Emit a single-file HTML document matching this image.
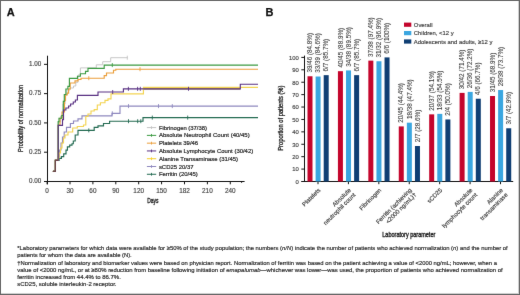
<!DOCTYPE html>
<html><head><meta charset="utf-8"><style>
html,body{margin:0;padding:0;background:#fff;}
body{width:520px;height:295px;overflow:hidden;position:relative;}
.frame{position:absolute;left:0;top:0;width:520px;height:295px;box-sizing:border-box;border:1px solid #666;box-shadow:inset -1px -1px 0 rgba(102,102,102,0.3);}
svg{position:absolute;left:0;top:0;}
.wrap{position:absolute;left:0;top:0;width:520px;height:295px;will-change:transform;background:#fff;}
svg text{font-family:"Liberation Sans", sans-serif;stroke-width:0.15;}
</style></head><body>
<div class="wrap">
<svg width="520" height="295" viewBox="0 0 520 295">
<defs><filter id="soft" x="0" y="0" width="520" height="295" filterUnits="userSpaceOnUse" color-interpolation-filters="sRGB"><feConvolveMatrix order="3" kernelMatrix="0.0036 0.0528 0.0036 0.0528 0.7744 0.0528 0.0036 0.0528 0.0036" divisor="1" edgeMode="duplicate" preserveAlpha="true"/></filter></defs>
<g filter="url(#soft)">
<rect x="0" y="0" width="520" height="295" fill="#fff"/>
<line x1="47.5" y1="55.7" x2="47.5" y2="184.3" stroke="#111" stroke-width="1.05"/>
<line x1="44" y1="181.5" x2="244.6" y2="181.5" stroke="#111" stroke-width="1.05"/>
<line x1="44" y1="181.50" x2="47.5" y2="181.50" stroke="#111" stroke-width="1"/>
<text stroke="#444" x="41.3" y="183.35" font-size="6.3" text-anchor="end" fill="#444">0.00</text>
<line x1="44" y1="152.21" x2="47.5" y2="152.21" stroke="#111" stroke-width="1"/>
<text stroke="#444" x="41.3" y="154.06" font-size="6.3" text-anchor="end" fill="#444">0.25</text>
<line x1="44" y1="122.92" x2="47.5" y2="122.92" stroke="#111" stroke-width="1"/>
<text stroke="#444" x="41.3" y="124.77" font-size="6.3" text-anchor="end" fill="#444">0.50</text>
<line x1="44" y1="93.64" x2="47.5" y2="93.64" stroke="#111" stroke-width="1"/>
<text stroke="#444" x="41.3" y="95.49" font-size="6.3" text-anchor="end" fill="#444">0.75</text>
<line x1="44" y1="64.35" x2="47.5" y2="64.35" stroke="#111" stroke-width="1"/>
<text stroke="#444" x="41.3" y="66.20" font-size="6.3" text-anchor="end" fill="#444">1.00</text>
<line x1="47.10" y1="181.5" x2="47.10" y2="184.3" stroke="#111" stroke-width="1"/>
<text stroke="#444" x="47.10" y="192.9" font-size="6.4" text-anchor="middle" fill="#444">0</text>
<line x1="70.00" y1="181.5" x2="70.00" y2="184.3" stroke="#111" stroke-width="1"/>
<text stroke="#444" x="70.00" y="192.9" font-size="6.4" text-anchor="middle" fill="#444">30</text>
<line x1="92.90" y1="181.5" x2="92.90" y2="184.3" stroke="#111" stroke-width="1"/>
<text stroke="#444" x="92.90" y="192.9" font-size="6.4" text-anchor="middle" fill="#444">60</text>
<line x1="115.80" y1="181.5" x2="115.80" y2="184.3" stroke="#111" stroke-width="1"/>
<text stroke="#444" x="115.80" y="192.9" font-size="6.4" text-anchor="middle" fill="#444">90</text>
<line x1="138.70" y1="181.5" x2="138.70" y2="184.3" stroke="#111" stroke-width="1"/>
<text stroke="#444" x="138.70" y="192.9" font-size="6.4" text-anchor="middle" fill="#444">120</text>
<line x1="161.59" y1="181.5" x2="161.59" y2="184.3" stroke="#111" stroke-width="1"/>
<text stroke="#444" x="161.59" y="192.9" font-size="6.4" text-anchor="middle" fill="#444">150</text>
<line x1="184.49" y1="181.5" x2="184.49" y2="184.3" stroke="#111" stroke-width="1"/>
<text stroke="#444" x="184.49" y="192.9" font-size="6.4" text-anchor="middle" fill="#444">182</text>
<line x1="207.39" y1="181.5" x2="207.39" y2="184.3" stroke="#111" stroke-width="1"/>
<text stroke="#444" x="207.39" y="192.9" font-size="6.4" text-anchor="middle" fill="#444">210</text>
<line x1="230.29" y1="181.5" x2="230.29" y2="184.3" stroke="#111" stroke-width="1"/>
<text stroke="#444" x="230.29" y="192.9" font-size="6.4" text-anchor="middle" fill="#444">240</text>
<line x1="241.6" y1="181.5" x2="241.6" y2="183.0" stroke="#111" stroke-width="0.8"/>
<text stroke="#222" x="152.9" y="202.9" font-size="7.1" text-anchor="middle" fill="#222" style="stroke-width:0.35" textLength="11.2" lengthAdjust="spacingAndGlyphs">Days</text>
<text stroke="#222" transform="translate(23.0,118.4) rotate(-90)" x="0" y="0" font-size="6.8" text-anchor="middle" fill="#222" style="stroke-width:0.3" textLength="67" lengthAdjust="spacingAndGlyphs">Probability of normalization</text>
<polyline points="52.90,171.40 55.40,171.40 55.40,160.40 58.20,160.40 58.20,122.00 60.50,122.00 60.50,116.00 63.00,116.00 63.00,104.00 65.00,104.00 65.00,95.00 67.00,95.00 67.00,90.00 70.00,90.00 70.00,88.00 73.50,88.00 73.50,86.00 75.80,86.00 75.80,82.30 78.00,82.30 78.00,75.00 80.40,75.00 80.40,67.90 96.30,67.90 96.30,64.80 102.70,64.80 102.70,61.70 110.70,61.70 110.70,57.70 127.60,57.70 127.60,57.70" fill="none" stroke="#c4c4c4" stroke-width="0.95"/>
<line x1="127.3" y1="55.70" x2="127.3" y2="59.70" stroke="#c4c4c4" stroke-width="0.9"/>
<polyline points="52.90,171.40 55.40,171.40 55.40,160.40 58.20,160.40 58.20,157.00 59.50,157.00 59.50,150.00 61.00,150.00 61.00,143.00 62.50,143.00 62.50,137.00 64.20,137.00 64.20,132.00 66.50,132.00 66.50,127.30 70.40,127.30 70.40,123.50 73.50,123.50 73.50,121.00 78.00,121.00 78.00,118.80 82.00,118.80 82.00,115.80 112.00,115.80 112.00,113.30 120.00,113.30 120.00,106.10 258.00,106.10 258.00,106.10" fill="none" stroke="#8f89bf" stroke-width="1.15"/>
<line x1="112.3" y1="111.30" x2="112.3" y2="115.30" stroke="#8f89bf" stroke-width="0.9"/>
<line x1="128.5" y1="104.10" x2="128.5" y2="108.10" stroke="#8f89bf" stroke-width="0.9"/>
<line x1="158.5" y1="104.10" x2="158.5" y2="108.10" stroke="#8f89bf" stroke-width="0.9"/>
<line x1="172.3" y1="104.10" x2="172.3" y2="108.10" stroke="#8f89bf" stroke-width="0.9"/>
<polyline points="52.90,171.40 55.40,171.40 55.40,160.40 59.10,160.40 59.10,158.40 61.40,158.40 61.40,156.60 63.70,156.60 63.70,153.80 66.00,153.80 66.00,150.10 67.40,150.10 67.40,146.90 69.70,146.90 69.70,145.10 72.00,145.10 72.00,143.70 73.30,143.70 73.30,141.00 75.20,141.00 75.20,135.00 78.00,135.00 78.00,130.40 94.20,130.40 94.20,127.30 98.00,127.30 98.00,125.80 103.50,125.80 103.50,123.50 109.60,123.50 109.60,121.20 143.00,121.20 143.00,117.60 258.00,117.60 258.00,117.60" fill="none" stroke="#246b52" stroke-width="1.15"/>
<line x1="88.8" y1="128.40" x2="88.8" y2="132.40" stroke="#246b52" stroke-width="0.9"/>
<line x1="128.5" y1="119.20" x2="128.5" y2="123.20" stroke="#246b52" stroke-width="0.9"/>
<line x1="137.7" y1="119.20" x2="137.7" y2="123.20" stroke="#246b52" stroke-width="0.9"/>
<line x1="140.8" y1="119.20" x2="140.8" y2="123.20" stroke="#246b52" stroke-width="0.9"/>
<line x1="152.3" y1="115.60" x2="152.3" y2="119.60" stroke="#246b52" stroke-width="0.9"/>
<line x1="187.7" y1="115.60" x2="187.7" y2="119.60" stroke="#246b52" stroke-width="0.9"/>
<polyline points="52.90,171.40 55.40,171.40 55.40,160.40 58.20,160.40 58.20,125.00 60.00,125.00 60.00,118.20 62.00,118.20 62.00,112.00 64.50,112.00 64.50,100.60 65.50,100.60 65.50,95.00 67.20,95.00 67.20,93.10 68.60,93.10 68.60,89.00 70.20,89.00 70.20,83.00 75.00,83.00 75.00,80.80 78.00,80.80 78.00,79.50 81.00,79.50 81.00,78.20 104.20,78.20 104.20,75.60 106.50,75.60 106.50,73.00 113.50,73.00 113.50,70.20 115.80,70.20 115.80,69.20 258.00,69.20 258.00,69.20" fill="none" stroke="#eb9f3c" stroke-width="1.15"/>
<line x1="88.8" y1="76.20" x2="88.8" y2="80.20" stroke="#eb9f3c" stroke-width="0.9"/>
<line x1="140" y1="67.20" x2="140" y2="71.20" stroke="#eb9f3c" stroke-width="0.9"/>
<polyline points="52.90,171.40 55.40,171.40 55.40,160.40 58.20,160.40 58.20,121.60 59.00,121.60 59.00,118.20 61.80,118.20 61.80,115.50 63.30,115.50 63.30,101.30 64.30,101.30 64.30,94.50 65.90,94.50 65.90,89.00 67.90,89.00 67.90,86.40 69.40,86.40 69.40,78.30 77.50,78.30 77.50,76.20 80.40,76.20 80.40,73.70 85.50,73.70 85.50,71.40 88.00,71.40 88.00,68.40 104.20,68.40 104.20,65.10 258.00,65.10 258.00,65.10" fill="none" stroke="#3c9a42" stroke-width="1.15"/>
<line x1="112.3" y1="63.10" x2="112.3" y2="67.10" stroke="#3c9a42" stroke-width="0.9"/>
<polyline points="52.90,171.40 55.40,171.40 55.40,160.40 58.20,160.40 58.20,158.00 59.00,158.00 59.00,153.00 60.50,153.00 60.50,148.00 62.00,148.00 62.00,143.00 63.50,143.00 63.50,138.00 65.00,138.00 65.00,135.00 68.00,135.00 68.00,132.00 72.70,132.00 72.70,128.00 77.30,128.00 77.30,126.50 83.50,126.50 83.50,125.00 85.80,125.00 85.80,116.50 88.00,116.50 88.00,114.00 91.00,114.00 91.00,111.00 94.20,111.00 94.20,109.60 97.30,109.60 97.30,105.00 100.40,105.00 100.40,102.70 105.00,102.70 105.00,100.40 108.00,100.40 108.00,98.80 111.00,98.80 111.00,93.80 143.40,93.80 143.40,87.40 258.00,87.40 258.00,87.40" fill="none" stroke="#f3d452" stroke-width="1.15"/>
<polyline points="52.90,171.40 55.40,171.40 55.40,160.40 58.20,160.40 58.20,125.30 62.50,125.30 62.50,119.60 63.50,119.60 63.50,110.00 65.90,110.00 65.90,108.00 68.60,108.00 68.60,106.00 70.60,106.00 70.60,104.00 73.30,104.00 73.30,102.00 75.40,102.00 75.40,100.00 77.40,100.00 77.40,95.30 98.00,95.30 98.00,92.00 123.40,92.00 123.40,88.80 240.30,88.80 240.30,84.20 258.00,84.20 258.00,84.20" fill="none" stroke="#5a3283" stroke-width="1.15"/>
<line x1="112.7" y1="90.00" x2="112.7" y2="94.00" stroke="#5a3283" stroke-width="0.9"/>
<line x1="128.4" y1="86.80" x2="128.4" y2="90.80" stroke="#5a3283" stroke-width="0.9"/>
<line x1="137.6" y1="86.80" x2="137.6" y2="90.80" stroke="#5a3283" stroke-width="0.9"/>
<line x1="140.3" y1="86.80" x2="140.3" y2="90.80" stroke="#5a3283" stroke-width="0.9"/>
<line x1="144" y1="88.8" x2="240.3" y2="88.8" stroke="#74505e" stroke-width="1.15"/>
<line x1="188.5" y1="86.8" x2="188.5" y2="90.8" stroke="#5a3283" stroke-width="0.9"/>
<polyline points="52.9,171.4 55.4,171.4 55.4,160.4 58.2,160.4" fill="none" stroke="#6a4446" stroke-width="1.15"/>
<line x1="146.9" y1="127.60" x2="156.2" y2="127.60" stroke="#c4c4c4" stroke-width="1.0"/>
<line x1="151.5" y1="126.20" x2="151.5" y2="129.00" stroke="#c4c4c4" stroke-width="0.9"/>
<text stroke="#262626" x="158.9" y="129.60" font-size="5.95" fill="#262626" style="stroke-width:0.2" textLength="48.1" lengthAdjust="spacingAndGlyphs">Fibrinogen (37/38)</text>
<line x1="146.9" y1="135.38" x2="156.2" y2="135.38" stroke="#3c9a42" stroke-width="1.0"/>
<line x1="151.5" y1="133.98" x2="151.5" y2="136.78" stroke="#3c9a42" stroke-width="0.9"/>
<text stroke="#262626" x="158.9" y="137.38" font-size="5.95" fill="#262626" style="stroke-width:0.2" textLength="90.8" lengthAdjust="spacingAndGlyphs">Absolute Neutrophil Count (40/45)</text>
<line x1="146.9" y1="143.16" x2="156.2" y2="143.16" stroke="#eb9f3c" stroke-width="1.0"/>
<line x1="151.5" y1="141.76" x2="151.5" y2="144.56" stroke="#eb9f3c" stroke-width="0.9"/>
<text stroke="#262626" x="158.9" y="145.16" font-size="5.95" fill="#262626" style="stroke-width:0.2">Platelets 39/46</text>
<line x1="146.9" y1="150.94" x2="156.2" y2="150.94" stroke="#5a3283" stroke-width="1.0"/>
<line x1="151.5" y1="149.54" x2="151.5" y2="152.34" stroke="#5a3283" stroke-width="0.9"/>
<text stroke="#262626" x="158.9" y="152.94" font-size="5.95" fill="#262626" style="stroke-width:0.2" textLength="94.3" lengthAdjust="spacingAndGlyphs">Absolute Lymphocyte Count (30/42)</text>
<line x1="146.9" y1="158.72" x2="156.2" y2="158.72" stroke="#f6cf2a" stroke-width="1.0"/>
<line x1="151.5" y1="157.32" x2="151.5" y2="160.12" stroke="#f6cf2a" stroke-width="0.9"/>
<text stroke="#262626" x="158.9" y="160.72" font-size="5.95" fill="#262626" style="stroke-width:0.2">Alanine Transaminase (31/45)</text>
<line x1="146.9" y1="166.50" x2="156.2" y2="166.50" stroke="#8f89bf" stroke-width="1.0"/>
<line x1="151.5" y1="165.10" x2="151.5" y2="167.90" stroke="#8f89bf" stroke-width="0.9"/>
<text stroke="#262626" x="158.9" y="168.50" font-size="5.95" fill="#262626" style="stroke-width:0.2">sCD25 20/37</text>
<line x1="146.9" y1="174.28" x2="156.2" y2="174.28" stroke="#246b52" stroke-width="1.0"/>
<line x1="151.5" y1="172.88" x2="151.5" y2="175.68" stroke="#246b52" stroke-width="0.9"/>
<text stroke="#262626" x="158.9" y="176.28" font-size="5.95" fill="#262626" style="stroke-width:0.2">Ferritin (20/45)</text>
<line x1="304.5" y1="55.6" x2="304.5" y2="181.5" stroke="#111" stroke-width="1.05"/>
<line x1="301.6" y1="181.5" x2="513.2" y2="181.5" stroke="#111" stroke-width="1.05"/>
<line x1="301.3" y1="181.50" x2="304.5" y2="181.50" stroke="#111" stroke-width="1"/>
<text stroke="#444" x="298.8" y="183.80" font-size="5.9" text-anchor="end" fill="#444">0</text>
<line x1="301.3" y1="169.09" x2="304.5" y2="169.09" stroke="#111" stroke-width="1"/>
<text stroke="#444" x="298.8" y="171.39" font-size="5.9" text-anchor="end" fill="#444">10</text>
<line x1="301.3" y1="156.68" x2="304.5" y2="156.68" stroke="#111" stroke-width="1"/>
<text stroke="#444" x="298.8" y="158.98" font-size="5.9" text-anchor="end" fill="#444">20</text>
<line x1="301.3" y1="144.27" x2="304.5" y2="144.27" stroke="#111" stroke-width="1"/>
<text stroke="#444" x="298.8" y="146.57" font-size="5.9" text-anchor="end" fill="#444">30</text>
<line x1="301.3" y1="131.86" x2="304.5" y2="131.86" stroke="#111" stroke-width="1"/>
<text stroke="#444" x="298.8" y="134.16" font-size="5.9" text-anchor="end" fill="#444">40</text>
<line x1="301.3" y1="119.45" x2="304.5" y2="119.45" stroke="#111" stroke-width="1"/>
<text stroke="#444" x="298.8" y="121.75" font-size="5.9" text-anchor="end" fill="#444">50</text>
<line x1="301.3" y1="107.04" x2="304.5" y2="107.04" stroke="#111" stroke-width="1"/>
<text stroke="#444" x="298.8" y="109.34" font-size="5.9" text-anchor="end" fill="#444">60</text>
<line x1="301.3" y1="94.63" x2="304.5" y2="94.63" stroke="#111" stroke-width="1"/>
<text stroke="#444" x="298.8" y="96.93" font-size="5.9" text-anchor="end" fill="#444">70</text>
<line x1="301.3" y1="82.22" x2="304.5" y2="82.22" stroke="#111" stroke-width="1"/>
<text stroke="#444" x="298.8" y="84.52" font-size="5.9" text-anchor="end" fill="#444">80</text>
<line x1="301.3" y1="69.81" x2="304.5" y2="69.81" stroke="#111" stroke-width="1"/>
<text stroke="#444" x="298.8" y="72.11" font-size="5.9" text-anchor="end" fill="#444">90</text>
<line x1="301.3" y1="57.40" x2="304.5" y2="57.40" stroke="#111" stroke-width="1"/>
<text stroke="#444" x="298.8" y="59.70" font-size="5.9" text-anchor="end" fill="#444">100</text>
<text stroke="#222" transform="translate(283.2,118.2) rotate(-90)" font-size="6.3" text-anchor="middle" fill="#222" style="stroke-width:0.3" textLength="65" lengthAdjust="spacingAndGlyphs">Proportion of patients (%)</text>
<text stroke="#222" x="408.8" y="236.6" font-size="6.4" text-anchor="middle" fill="#222" style="stroke-width:0.35" textLength="53" lengthAdjust="spacingAndGlyphs">Laboratory parameter</text>
<line x1="318.00" y1="181.5" x2="318.00" y2="184.2" stroke="#111" stroke-width="1"/>
<rect x="307.50" y="76.26" width="5.0" height="105.24" fill="#c4052c"/>
<text stroke="#3c3c3c" transform="translate(312.15,72.56) rotate(-90)" font-size="6.3" fill="#3c3c3c" style="stroke-width:0.08">39/46 (84.8%)</text>
<rect x="315.60" y="76.51" width="5.0" height="104.99" fill="#3aa6e0"/>
<text stroke="#3c3c3c" transform="translate(320.25,72.81) rotate(-90)" font-size="6.3" fill="#3c3c3c" style="stroke-width:0.08">33/39 (84.6%)</text>
<rect x="323.70" y="75.15" width="5.0" height="106.35" fill="#0f3e73"/>
<text stroke="#3c3c3c" transform="translate(328.35,71.45) rotate(-90)" font-size="6.3" fill="#3c3c3c" style="stroke-width:0.08">6/7 (85.7%)</text>
<line x1="348.42" y1="181.5" x2="348.42" y2="184.2" stroke="#111" stroke-width="1"/>
<rect x="337.92" y="71.18" width="5.0" height="110.32" fill="#c4052c"/>
<text stroke="#3c3c3c" transform="translate(342.57,67.48) rotate(-90)" font-size="6.3" fill="#3c3c3c" style="stroke-width:0.08">40/45 (88.9%)</text>
<rect x="346.02" y="70.43" width="5.0" height="111.07" fill="#3aa6e0"/>
<text stroke="#3c3c3c" transform="translate(350.67,66.73) rotate(-90)" font-size="6.3" fill="#3c3c3c" style="stroke-width:0.08">34/38 (89.5%)</text>
<rect x="354.12" y="75.15" width="5.0" height="106.35" fill="#0f3e73"/>
<text stroke="#3c3c3c" transform="translate(358.77,71.45) rotate(-90)" font-size="6.3" fill="#3c3c3c" style="stroke-width:0.08">6/7 (85.7%)</text>
<line x1="378.84" y1="181.5" x2="378.84" y2="184.2" stroke="#111" stroke-width="1"/>
<rect x="368.34" y="60.63" width="5.0" height="120.87" fill="#c4052c"/>
<text stroke="#3c3c3c" transform="translate(372.99,56.93) rotate(-90)" font-size="6.3" fill="#3c3c3c" style="stroke-width:0.08">37/38 (97.4%)</text>
<rect x="376.44" y="61.25" width="5.0" height="120.25" fill="#3aa6e0"/>
<text stroke="#3c3c3c" transform="translate(381.09,57.55) rotate(-90)" font-size="6.3" fill="#3c3c3c" style="stroke-width:0.08">31/32 (96.9%)</text>
<rect x="384.54" y="57.40" width="5.0" height="124.10" fill="#0f3e73"/>
<text stroke="#3c3c3c" transform="translate(389.19,53.70) rotate(-90)" font-size="6.3" fill="#3c3c3c" style="stroke-width:0.08">6/6 (100%)</text>
<line x1="409.26" y1="181.5" x2="409.26" y2="184.2" stroke="#111" stroke-width="1"/>
<rect x="398.76" y="126.40" width="5.0" height="55.10" fill="#c4052c"/>
<text stroke="#3c3c3c" transform="translate(403.41,122.70) rotate(-90)" font-size="6.3" fill="#3c3c3c" style="stroke-width:0.08">20/45 (44.4%)</text>
<rect x="406.86" y="122.68" width="5.0" height="58.82" fill="#3aa6e0"/>
<text stroke="#3c3c3c" transform="translate(411.51,118.98) rotate(-90)" font-size="6.3" fill="#3c3c3c" style="stroke-width:0.08">18/38 (47.4%)</text>
<rect x="414.96" y="146.01" width="5.0" height="35.49" fill="#0f3e73"/>
<text stroke="#3c3c3c" transform="translate(419.61,142.31) rotate(-90)" font-size="6.3" fill="#3c3c3c" style="stroke-width:0.08">2/7 (28.6%)</text>
<line x1="439.68" y1="181.5" x2="439.68" y2="184.2" stroke="#111" stroke-width="1"/>
<rect x="429.18" y="114.36" width="5.0" height="67.14" fill="#c4052c"/>
<text stroke="#3c3c3c" transform="translate(433.83,110.66) rotate(-90)" font-size="6.3" fill="#3c3c3c" style="stroke-width:0.08">20/37 (54.1%)</text>
<rect x="437.28" y="113.87" width="5.0" height="67.63" fill="#3aa6e0"/>
<text stroke="#3c3c3c" transform="translate(441.93,110.17) rotate(-90)" font-size="6.3" fill="#3c3c3c" style="stroke-width:0.08">18/33 (54.5%)</text>
<rect x="445.38" y="119.45" width="5.0" height="62.05" fill="#0f3e73"/>
<text stroke="#3c3c3c" transform="translate(450.03,115.75) rotate(-90)" font-size="6.3" fill="#3c3c3c" style="stroke-width:0.08">2/4 (50.0%)</text>
<line x1="470.10" y1="181.5" x2="470.10" y2="184.2" stroke="#111" stroke-width="1"/>
<rect x="459.60" y="92.89" width="5.0" height="88.61" fill="#c4052c"/>
<text stroke="#3c3c3c" transform="translate(464.25,89.19) rotate(-90)" font-size="6.3" fill="#3c3c3c" style="stroke-width:0.08">30/42 (71.4%)</text>
<rect x="467.70" y="91.90" width="5.0" height="89.60" fill="#3aa6e0"/>
<text stroke="#3c3c3c" transform="translate(472.35,88.20) rotate(-90)" font-size="6.3" fill="#3c3c3c" style="stroke-width:0.08">26/36 (72.2%)</text>
<rect x="475.80" y="98.73" width="5.0" height="82.77" fill="#0f3e73"/>
<text stroke="#3c3c3c" transform="translate(480.45,95.03) rotate(-90)" font-size="6.3" fill="#3c3c3c" style="stroke-width:0.08">4/6 (66.7%)</text>
<line x1="500.52" y1="181.5" x2="500.52" y2="184.2" stroke="#111" stroke-width="1"/>
<rect x="490.02" y="96.00" width="5.0" height="85.50" fill="#c4052c"/>
<text stroke="#3c3c3c" transform="translate(494.67,92.30) rotate(-90)" font-size="6.3" fill="#3c3c3c" style="stroke-width:0.08">31/45 (68.9%)</text>
<rect x="498.12" y="90.04" width="5.0" height="91.46" fill="#3aa6e0"/>
<text stroke="#3c3c3c" transform="translate(502.77,86.34) rotate(-90)" font-size="6.3" fill="#3c3c3c" style="stroke-width:0.08">28/38 (73.7%)</text>
<rect x="506.22" y="128.26" width="5.0" height="53.24" fill="#0f3e73"/>
<text stroke="#3c3c3c" transform="translate(510.87,124.56) rotate(-90)" font-size="6.3" fill="#3c3c3c" style="stroke-width:0.08">3/7 (42.9%)</text>
<g transform="translate(317.90,187.6) rotate(-45)"><text stroke="#3a3a3a" x="0" y="4.20" font-size="6.0" text-anchor="end" fill="#3a3a3a">Platelets</text></g>
<g transform="translate(348.32,187.6) rotate(-45)"><text stroke="#3a3a3a" x="0" y="4.20" font-size="6.0" text-anchor="end" fill="#3a3a3a">Absolute</text><text stroke="#3a3a3a" x="0" y="10.80" font-size="6.0" text-anchor="end" fill="#3a3a3a">neutrophil count</text></g>
<g transform="translate(378.74,187.6) rotate(-45)"><text stroke="#3a3a3a" x="0" y="4.20" font-size="6.0" text-anchor="end" fill="#3a3a3a">Fibrinogen</text></g>
<g transform="translate(409.16,187.6) rotate(-45)"><text stroke="#3a3a3a" x="0" y="4.20" font-size="6.0" text-anchor="end" fill="#3a3a3a">Ferritin (achieving</text><text stroke="#3a3a3a" x="0" y="10.80" font-size="6.0" text-anchor="end" fill="#3a3a3a">&lt;2000 ng/mL)†</text></g>
<g transform="translate(439.58,187.6) rotate(-45)"><text stroke="#3a3a3a" x="0" y="4.20" font-size="6.0" text-anchor="end" fill="#3a3a3a">sCD25</text></g>
<g transform="translate(470.00,187.6) rotate(-45)"><text stroke="#3a3a3a" x="0" y="4.20" font-size="6.0" text-anchor="end" fill="#3a3a3a">Absolute</text><text stroke="#3a3a3a" x="0" y="10.80" font-size="6.0" text-anchor="end" fill="#3a3a3a">lymphocyte count</text></g>
<g transform="translate(500.42,187.6) rotate(-45)"><text stroke="#3a3a3a" x="0" y="4.20" font-size="6.0" text-anchor="end" fill="#3a3a3a">Alanine</text><text stroke="#3a3a3a" x="0" y="10.80" font-size="6.0" text-anchor="end" fill="#3a3a3a">transaminase</text></g>
<rect x="404" y="22.60" width="7.3" height="4.2" fill="#c4052c"/>
<text stroke="#3a3a3a" x="413.8" y="26.80" font-size="5.9" fill="#3a3a3a">Overall</text>
<rect x="404" y="31.00" width="7.3" height="4.2" fill="#3aa6e0"/>
<text stroke="#3a3a3a" x="413.8" y="35.20" font-size="5.9" fill="#3a3a3a">Children, &lt;12 y</text>
<rect x="404" y="39.40" width="7.3" height="4.2" fill="#0f3e73"/>
<text stroke="#3a3a3a" x="413.8" y="43.60" font-size="5.9" fill="#3a3a3a">Adolescents and adults, ≥12 y</text>
<text stroke="#111" x="6.7" y="15.95" font-size="11" font-weight="bold" fill="#111" style="stroke-width:0.25">A</text>
<text stroke="#111" x="265.5" y="16.2" font-size="11" font-weight="bold" fill="#111" style="stroke-width:0.25">B</text>
<text stroke="#2a2a2a" x="17.3" y="250.0" font-size="5.9" fill="#2a2a2a" style="stroke-width:0.18" textLength="490.4" lengthAdjust="spacingAndGlyphs">*Laboratory parameters for which data were available for ≥50% of the study population; the numbers (<tspan font-style="italic">n/N</tspan>) indicate the number of patients who achieved normalization (<tspan font-style="italic">n</tspan>) and the number of</text>
<text stroke="#2a2a2a" x="17.3" y="257.2" font-size="5.9" fill="#2a2a2a" style="stroke-width:0.18" textLength="114.4" lengthAdjust="spacingAndGlyphs">patients for whom the data are available (N).</text>
<text stroke="#2a2a2a" x="17.3" y="264.5" font-size="5.9" fill="#2a2a2a" style="stroke-width:0.18" textLength="479.6" lengthAdjust="spacingAndGlyphs">†Normalization of laboratory and biomarker values were based on physician report. Normalization of ferritin was based on the patient achieving a value of &lt;2000 ng/mL; however, when a</text>
<text stroke="#2a2a2a" x="17.3" y="271.8" font-size="5.9" fill="#2a2a2a" style="stroke-width:0.18" textLength="485.4" lengthAdjust="spacingAndGlyphs">value of &lt;2000 ng/mL, or at ≥80% reduction from baseline following initiation of <tspan font-style="italic">emapalumab</tspan>—whichever was lower—was used, the proportion of patients who achieved normalization of</text>
<text stroke="#2a2a2a" x="17.3" y="279.3" font-size="5.9" fill="#2a2a2a" style="stroke-width:0.18" textLength="103.5" lengthAdjust="spacingAndGlyphs">ferritin increased from 44.4% to 86.7%.</text>
<text stroke="#2a2a2a" x="17.3" y="286.3" font-size="5.9" fill="#2a2a2a" style="stroke-width:0.18" textLength="99.2" lengthAdjust="spacingAndGlyphs">sCD25, soluble interleukin-2 receptor.</text>
<rect x="0.5" y="0.5" width="519" height="294" fill="none" stroke="#666" stroke-width="1"/>
<line x1="518.5" y1="1" x2="518.5" y2="294" stroke="#666" stroke-opacity="0.3" stroke-width="1"/>
<line x1="1" y1="293.5" x2="518" y2="293.5" stroke="#666" stroke-opacity="0.3" stroke-width="1"/>
</g>
</svg>
</div>
</body></html>
